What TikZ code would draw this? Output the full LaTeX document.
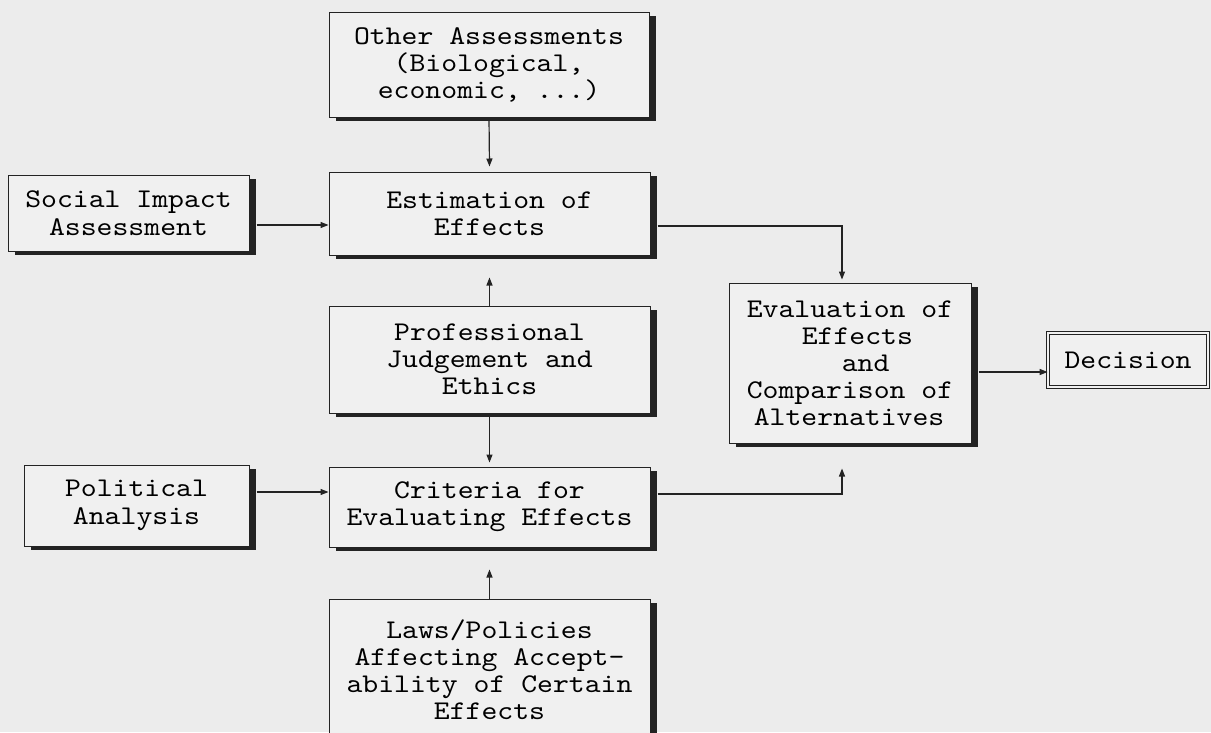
\documentclass[tikz,border=0pt]{standalone}
\usepackage{fontspec}
\newfontfamily\tw{lmmono10-regular.otf}[FakeStretch=1.12]
\usetikzlibrary{arrows.meta,shadows,calc}
\definecolor{bg}{RGB}{236,236,236}
\definecolor{boxfill}{RGB}{240,240,240}
\definecolor{ink}{RGB}{35,35,35}
\newcommand\twfont[1]{\tw\fontsize{27}{#1}\selectfont}
\begin{document}
\begin{tikzpicture}[x=1pt,y=-1pt,
  box/.style={draw=ink,line width=1pt,fill=boxfill,inner sep=0pt,align=center,font=\twfont{27},
    drop shadow={shadow xshift=7pt,shadow yshift=-4pt,fill=ink,opacity=1}},
  decbox/.style={draw=ink,line width=0.8pt,double=boxfill,double distance=1.6pt,fill=boxfill,inner sep=0pt,align=center,font=\twfont{27}},
  conn/.style={draw=ink,line width=1.2pt,-{Triangle[length=8pt,width=6pt]}},
]
\fill[bg] (0,0) rectangle (1211,732);
\useasboundingbox (0,0) rectangle (1211,732);

\node[box,minimum width=320pt,minimum height=105pt] (other) at (489,64.5) {Other Assessments\\(Biological,\\economic, ...)};
\node[box,minimum width=321pt,minimum height=83pt] (est) at (489.5,213.5) {Estimation of\\Effects};
\node[box,minimum width=241pt,minimum height=76pt,font=\twfont{28}] (social) at (128.5,213) {Social Impact\\Assessment};
\node[box,minimum width=321pt,minimum height=107pt] (prof) at (489.5,359.5) {Professional\\Judgement and\\Ethics};
\node[box,minimum width=242pt,minimum height=160pt,align=left] (eval) at (850,363) {Evaluation of\\\hspace*{55pt}Effects\\\hspace*{95pt}and\\Comparison of\\\hspace*{7pt}Alternatives};
\node[decbox,minimum width=160pt,minimum height=54pt] (dec) at (1128,360) {Decision};
\node[box,minimum width=225pt,minimum height=81pt,font=\twfont{28}] (political) at (136.5,505.5) {Political\\Analysis};
\node[box,minimum width=321pt,minimum height=80pt] (crit) at (489.5,507) {Criteria for\\Evaluating Effects};
\node[box,minimum width=321pt,minimum height=141pt] (laws) at (489.5,669.5) {Laws/Policies\\Affecting Accept-\\ability of Certain\\Effects};

\draw[conn] (other.south) -- ([yshift=5pt]est.north);
\coordinate (a1) at ($(social.east)+(7,12)$);
\draw[conn] (a1) -- (a1 -| est.west);
\draw[conn] ($(est.east)+(7,12.5)$) -| ([xshift=-8pt,yshift=3pt]eval.north);
\draw[conn] (prof.north) -- ([yshift=-22pt]est.south);
\draw[conn] (prof.south) -- ([yshift=4pt]crit.north);
\coordinate (a2) at ($(political.east)+(7,-13.5)$);
\draw[conn] (a2) -- (a2 -| crit.west);
\draw[conn] ($(crit.east)+(7,-13)$) -| ([xshift=-8pt,yshift=-25pt]eval.south);
\draw[conn] (laws.north) -- ([yshift=-22pt]crit.south);
\coordinate (a3) at ($(eval.east)+(7,9)$);
\draw[conn] (a3) -- (a3 -| dec.west);
\end{tikzpicture}
\end{document}
